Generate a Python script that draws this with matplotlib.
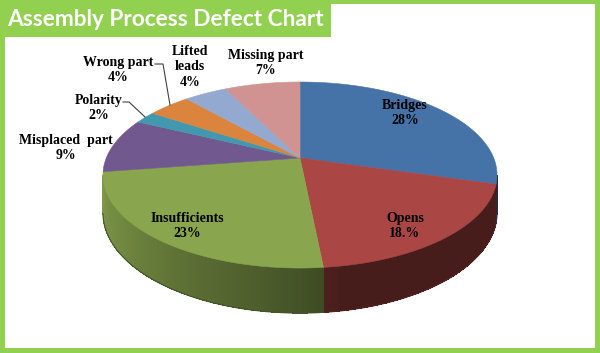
import numpy as np
import matplotlib
matplotlib.use("Agg")
import matplotlib.pyplot as plt
from matplotlib.patches import Rectangle, Polygon
from matplotlib.collections import PolyCollection
from matplotlib.colors import to_rgb

# data
categories = ['Bridges', 'Opens', 'Insufficients', 'Misplaced  part',
              'Polarity', 'Wrong part', 'Lifted\nleads', 'Missing part']
values = [28, 18, 23, 9, 2, 4, 4, 7]
pct_labels = ['28%', '18.%', '23%', '9%', '2%', '4%', '4%', '7%']
colors = ['#4572A7', '#AA4643', '#89A54E', '#71588F',
          '#4198AF', '#DB843D', '#93A9CF', '#D19392']

# label block centres (pixels, y down)
label_pos = [(405, 113), (405, 226), (187, 226), (66, 148),
             (99, 108), (118, 70), (190, 67), (266, 63)]
leaders = {4: [(123, 102), (129, 102), (145, 117)],
           5: [(155, 64), (163, 64), (170, 105)]}

green = '#92D050'

# perspective pie geometry (pixels)
cx, cy = 300, 158
A, B, k, H = 193.7, 89.9, 0.183, 36.8


def proj(t_deg, z=0.0):
    t = np.radians(t_deg)
    den = 1 + k * np.sin(t)
    u = A * np.cos(t) / den
    v = (B * np.sin(t) - H * z) / den
    return cx + u, cy - v


def shade(t_deg):
    t = np.mod(t_deg, 360)
    return np.interp(t, [190, 215, 250, 270, 280, 350],
                     [0.92, 0.82, 0.62, 0.50, 0.42, 0.42])


fig = plt.figure(figsize=(6, 3.53), dpi=100)
ax = fig.add_axes([0, 0, 1, 1])
ax.set_xlim(0, 600)
ax.set_ylim(353, 0)
ax.axis('off')

vals = np.array(values, dtype=float)
bounds = 90 - 360 * np.concatenate([[0], np.cumsum(vals)]) / vals.sum()

# side walls (front, visible part only)
vis_lo, vis_hi = -169.5, -10.5
for i in range(len(values)):
    a1, a2 = bounds[i], bounds[i + 1]
    lo, hi = max(a2, vis_lo), min(a1, vis_hi)
    if hi <= lo:
        continue
    ts = np.linspace(hi, lo, max(int((hi - lo) * 2), 2))
    quads, fcs = [], []
    base = np.array(to_rgb(colors[i]))
    for t0, t1 in zip(ts[:-1], ts[1:]):
        x0, y0 = proj(t0)
        x1, y1 = proj(t1)
        x2, y2 = proj(t1, 1)
        x3, y3 = proj(t0, 1)
        quads.append([(x0, y0), (x1, y1), (x2, y2), (x3, y3)])
        fcs.append(np.clip(base * shade((t0 + t1) / 2), 0, 1))
    pc = PolyCollection(quads, facecolors=fcs, edgecolors='none',
                        antialiaseds=False)
    ax.add_collection(pc)
    # soft bottom edge
    xb, yb = proj(ts, 1)
    ax.plot(xb, yb, color=np.clip(base * 0.5, 0, 1), lw=0.8,
            solid_capstyle='butt')

# top faces
for i in range(len(values)):
    ts = np.linspace(bounds[i], bounds[i + 1], 120)
    xs, ys = proj(ts)
    pts = [(cx, cy)] + list(zip(xs, ys))
    ax.add_patch(Polygon(pts, closed=True, facecolor=colors[i],
                         edgecolor=colors[i], linewidth=0.4))

# labels
for i, (name, pct) in enumerate(zip(categories, pct_labels)):
    x, y = label_pos[i]
    ax.text(x, y, name + '\n' + pct, ha='center', va='center',
            family='Liberation Serif', weight='bold', fontsize=10,
            linespacing=1.25, color='black')
for pts in leaders.values():
    xs, ys = zip(*pts)
    ax.plot(xs, ys, color='#404040', lw=0.8)

# frame and title
ax.add_patch(Rectangle((0, 0), 600, 4, color=green, lw=0))
ax.add_patch(Rectangle((0, 0), 5, 353, color=green, lw=0))
ax.add_patch(Rectangle((595, 0), 5, 353, color=green, lw=0))
ax.add_patch(Rectangle((0, 348), 600, 5, color=green, lw=0))
ax.add_patch(Rectangle((0, 0), 331, 37, color=green, lw=0))
ax.text(7, 20, 'Assembly Process Defect Chart', ha='left', va='center',
        family='Lato', weight='bold', fontsize=16.3, color='white')

fig.savefig('out.png', dpi=100)
